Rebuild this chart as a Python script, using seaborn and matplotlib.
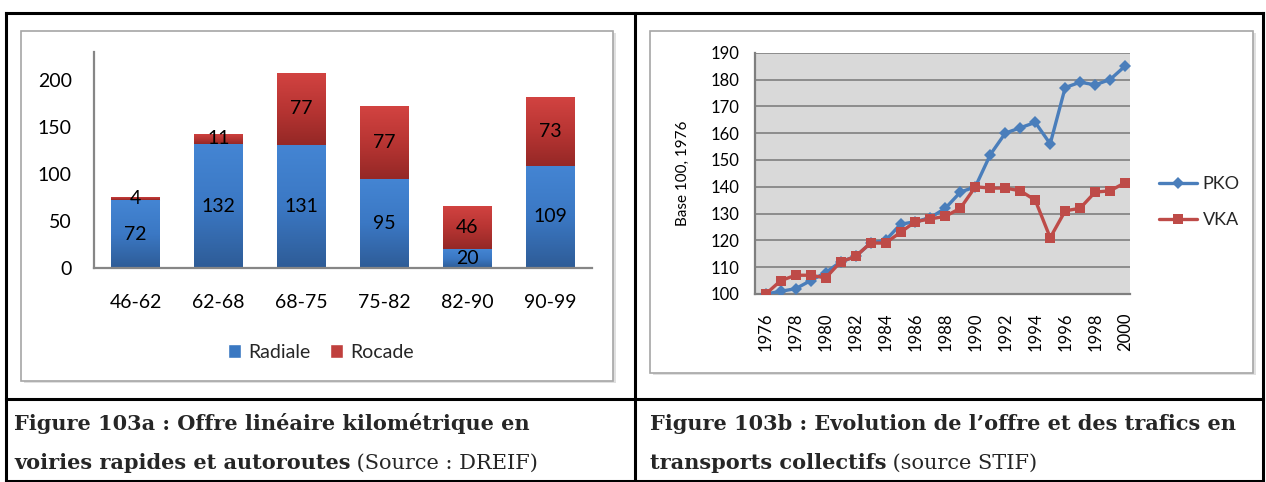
import numpy as np
import pandas as pd
import matplotlib
matplotlib.use("Agg")
import matplotlib.pyplot as plt
from matplotlib.lines import Line2D
from matplotlib.patches import Rectangle
from matplotlib.colors import LinearSegmentedColormap
import seaborn as sns

# ---------------- data ----------------
periods = ["46-62", "62-68", "68-75", "75-82", "82-90", "90-99"]
radiale = [72, 132, 131, 95, 20, 109]
rocade = [4, 11, 77, 77, 46, 73]

years = list(range(1976, 2001))
pko = [100, 101, 102, 105, 108, 112, 114, 119, 120, 126, 127, 128.5, 132, 138, 140,
       152, 160, 162, 164, 156, 177, 179, 178, 180, 185]
vka = [100, 105, 107, 107, 106, 112, 114, 119, 119, 123, 127, 128, 129, 132, 140,
       139.5, 139.5, 138.5, 135, 121, 131, 132, 138, 138.5, 141.5]

cap_a_bold1 = "Figure 103a : Offre linéaire kilométrique en"
cap_a_bold2 = "voiries rapides et autoroutes"
cap_a_reg2 = " (Source : DREIF)"
cap_b_bold1 = "Figure 103b : Evolution de l\u2019offre et des trafics en"
cap_b_bold2 = "transports collectifs"
cap_b_reg2 = " (source STIF)"

sns.set_theme(style="white")
plt.rcParams["font.family"] = ["Lato", "DejaVu Sans"]

W, H = 1266, 482
fig = plt.figure(figsize=(W / 100, H / 100), dpi=100)

def fx(x):
    return x / W

def fy(y):
    return 1 - y / H

# ---------------- table lines ----------------
for (x0, y0, x1, y1) in [(6, 13, 1263, 13), (6, 399, 1263, 399), (6, 481, 1263, 481),
                         (6, 13, 6, 481), (635, 13, 635, 481), (1263, 13, 1263, 481)]:
    fig.add_artist(Line2D([fx(x0), fx(x1)], [fy(y0), fy(y1)], color="black", lw=2.2,
                          solid_capstyle="projecting"))

# chart frames
for (x0, y0, x1, y1) in [(21, 31, 613, 381), (650, 31, 1253, 373)]:
    fig.add_artist(Rectangle((fx(x0) + 0.002, fy(y1) - 0.004), fx(x1 - x0), fy(y0) - fy(y1),
                             facecolor="#e0e0e0", edgecolor="none", zorder=0))
    fig.add_artist(Rectangle((fx(x0), fy(y1)), fx(x1 - x0), fy(y0) - fy(y1),
                             facecolor="white", edgecolor="#a6a6a6", lw=1.2, zorder=0.5))

# ---------------- left: stacked bars ----------------
axL = fig.add_axes([fx(94), fy(268), fx(592 - 94), fy(52) - fy(268)])
axL.set_zorder(2)
axL.patch.set_alpha(0)
dfb = pd.DataFrame({"period": periods, "radiale": radiale, "rocade": rocade})
dfb["total"] = dfb["radiale"] + dfb["rocade"]
sns.barplot(data=dfb, x="period", y="total", color="#c0403d", width=0.58,
            saturation=1, ax=axL, label="Rocade")
n_tot = len(axL.patches)
sns.barplot(data=dfb, x="period", y="radiale", color="#3a78c2", width=0.58,
            saturation=1, ax=axL, label="Radiale")

blue_cm = LinearSegmentedColormap.from_list("b", ["#2e5c97", "#3b78c4", "#4485d3"])
red_cm = LinearSegmentedColormap.from_list("r", ["#952826", "#b83533", "#d24341"])
bars = list(axL.patches)
for i, p in enumerate(bars):
    x, y = p.get_x(), p.get_y()
    w, h = p.get_width(), p.get_height()
    if i < n_tot:
        rad_h = dfb["radiale"].iloc[i]
        y0, y1 = rad_h, h
        cm = red_cm
    else:
        y0, y1 = 0, h
        cm = blue_cm
    grad = np.linspace(0, 1, 100).reshape(-1, 1)
    im = axL.imshow(grad, extent=[x, x + w, y0, y1], origin="lower", cmap=cm,
                    aspect="auto", zorder=p.get_zorder() + 0.1)
    im.set_clip_path(p)

for i in range(len(periods)):
    axL.text(i, radiale[i] / 2, str(radiale[i]), ha="center", va="center",
             fontsize=14, color="black", zorder=10)
    axL.text(i, radiale[i] + rocade[i] / 2, str(rocade[i]), ha="center", va="center",
             fontsize=14, color="black", zorder=10)

axL.set_xlim(-0.5, 5.5)
axL.set_ylim(0, 230)
axL.set_yticks([0, 50, 100, 150, 200])
axL.set_xlabel("")
axL.set_ylabel("")
axL.tick_params(axis="y", labelsize=14, length=0, pad=16, colors="black")
axL.tick_params(axis="x", labelsize=14, length=0, pad=19, colors="black")
for s in ["top", "right"]:
    axL.spines[s].set_visible(False)
for s in ["left", "bottom"]:
    axL.spines[s].set_color("#868686")
    axL.spines[s].set_linewidth(1.6)
leg_handles = [Rectangle((0, 0), 1, 1, facecolor="#3a78c2"),
               Rectangle((0, 0), 1, 1, facecolor="#c0403d")]
axL.legend(leg_handles, ["Radiale", "Rocade"], loc="center", bbox_to_anchor=(0.455, -0.39),
           ncol=2, frameon=False, fontsize=14, handlelength=0.7, handleheight=0.7,
           handletextpad=0.35, columnspacing=1.0)

# ---------------- right: lines ----------------
axR = fig.add_axes([fx(755), fy(294), fx(1130 - 755), fy(52.7) - fy(294)])
axR.set_zorder(2)
dfl = pd.DataFrame({"year": years * 2, "value": pko + vka,
                    "serie": ["PKO"] * len(years) + ["VKA"] * len(years)})
axR.set_facecolor("#d9d9d9")
sns.lineplot(data=dfl, x="year", y="value", hue="serie", style="serie",
             palette={"PKO": "#4a7ebb", "VKA": "#be4b48"},
             markers={"PKO": "D", "VKA": "s"}, dashes=False, lw=2.4, markersize=6.5,
             markeredgewidth=0, ax=axR, zorder=3)
axR.set_xlim(1975.28, 2000.33)
axR.set_ylim(100, 190)
axR.set_yticks(range(100, 191, 10))
axR.set_xticks(range(1976, 2001, 2))
axR.set_xticklabels([str(y) for y in range(1976, 2001, 2)], rotation=90)
axR.yaxis.grid(True, color="#8c8c8c", lw=1.4)
axR.xaxis.grid(False)
axR.set_axisbelow(True)
axR.tick_params(axis="y", labelsize=12, length=0, pad=11, colors="black")
axR.tick_params(axis="x", labelsize=12, length=0, pad=13.5, colors="black")
axR.set_xlabel("")
axR.set_ylabel("Base 100, 1976", fontsize=11, labelpad=15, color="black")
for s in ["top", "right"]:
    axR.spines[s].set_visible(False)
for s in ["left", "bottom"]:
    axR.spines[s].set_color("#7f7f7f")
    axR.spines[s].set_linewidth(1.6)
h, l = axR.get_legend_handles_labels()
axR.legend(h, l, loc="center left", bbox_to_anchor=(1.035, 0.38), frameon=False,
           fontsize=13, handlelength=2.1, handletextpad=0.3, labelspacing=1.1)

# ---------------- captions ----------------
serif = ["DejaVu Serif"]
fs_cap = 15
fig.text(fx(14), fy(424), cap_a_bold1, fontsize=fs_cap, fontweight="bold", family=serif,
         va="center", ha="left")
t = fig.text(fx(14), fy(463), cap_a_bold2, fontsize=fs_cap, fontweight="bold", family=serif,
             va="center", ha="left")
fig.canvas.draw()
bb = t.get_window_extent()
fig.text(bb.x1 / W, fy(463), cap_a_reg2, fontsize=fs_cap, family=serif, va="center", ha="left")

fig.text(fx(650), fy(424), cap_b_bold1, fontsize=fs_cap, fontweight="bold", family=serif,
         va="center", ha="left")
t2 = fig.text(fx(650), fy(463), cap_b_bold2, fontsize=fs_cap, fontweight="bold", family=serif,
              va="center", ha="left")
fig.canvas.draw()
bb2 = t2.get_window_extent()
fig.text(bb2.x1 / W, fy(463), cap_b_reg2, fontsize=fs_cap, family=serif, va="center", ha="left")

fig.savefig("out.png", dpi=100)
